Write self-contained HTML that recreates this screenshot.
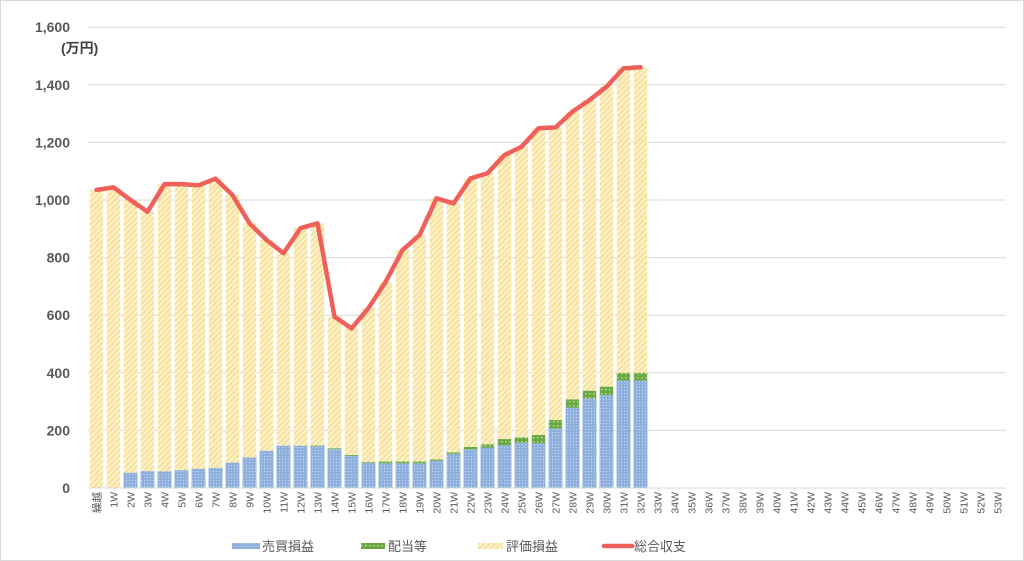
<!DOCTYPE html>
<html><head><meta charset="utf-8"><style>
html,body{margin:0;padding:0;background:#fff;}
svg{display:block;font-family:"Liberation Sans","Noto Sans CJK JP",sans-serif;}
</style></head><body>
<svg id="c" width="1024" height="561" viewBox="0 0 1024 561" xmlns="http://www.w3.org/2000/svg">
<defs>
<pattern id="py" width="4" height="4" patternUnits="userSpaceOnUse" patternTransform="rotate(45)">
<rect width="4" height="4" fill="#f7e3a0"/><rect width="1.3" height="4" fill="#fff7e0"/></pattern>
<pattern id="pb" width="3" height="3" patternUnits="userSpaceOnUse">
<rect width="3" height="3" fill="#8fb0dc"/><rect width="1" height="1" fill="#c8d9ef"/></pattern>
<pattern id="pg" width="4" height="4" patternUnits="userSpaceOnUse">
<rect width="4" height="4" fill="#6aa843"/><rect x="1" y="1" width="1.5" height="1.5" fill="#b7dc96"/></pattern>
</defs>
<rect x="0.5" y="0.5" width="1023" height="560" fill="#fff" stroke="#d9d9d9"/>
<g id="g"></g>
</svg>
<script>
var g=document.getElementById('g'),NS='http://www.w3.org/2000/svg';
function el(t,a,txt){var e=document.createElementNS(NS,t);for(var k in a)e.setAttribute(k,a[k]);if(txt!=null)e.textContent=txt;g.appendChild(e);return e;}
var y0=488,sc=0.288,L=88,st=17.0;
function Y(v){return y0-v*sc;}
for(var v=0;v<=1600;v+=200){var y=Y(v);
 if(v>0)el('line',{x1:L,x2:1006,y1:y,y2:y,stroke:'#d9d9d9','stroke-width':1});
 el('text',{x:70,y:y+5,'text-anchor':'end','font-size':14,'font-weight':'bold',fill:'#595959'},v.toLocaleString('en-US'));}
el('text',{x:61,y:53,'font-size':14,'font-weight':'bold',fill:'#404040'},'(万円)');
var tot=[1035,1044,1000,959,1055,1055,1051,1074,1017,919,861,815,902,919,595,554,625,715,826,878,1006,988,1075,1093,1156,1185,1249,1252,1307,1347,1393,1457,1461];
var blu=[0,0,53,59,58,62,67,70,88,106,129,147,147,145,135,112,87,86,86,86,95,118,134,140,149,157,155,207,279,311,323,373,373];
var grn=[0,0,0,0,0,0,0,0,0,0,0,0,0,3,3,3,3,6,6,6,4,6,9,12,21,19,29,29,29,27,29,27,27];
var bw=13.5,pts=[];
for(var i=0;i<54;i++){var cx=L+st*(i+0.5);
 if(i<tot.length){var b=blu[i],gr=grn[i],t=tot[i],yl=t-b-gr;
  if(b>0)el('rect',{x:cx-bw/2,y:Y(b),width:bw,height:b*sc,fill:'url(#pb)',stroke:'#9dc3e6','stroke-width':0.6});
  if(gr>0)el('rect',{x:cx-bw/2,y:Y(b+gr),width:bw,height:gr*sc,fill:'url(#pg)'});
  el('rect',{x:cx-bw/2,y:Y(t),width:bw,height:yl*sc,fill:'url(#py)'});
  pts.push(cx+','+Y(t));}
 var lab=i==0?'繰越':i+'W';
 el('text',{transform:'translate('+(cx+4)+',492) rotate(-90)','text-anchor':'end','font-size':10.5,fill:'#595959'},lab);}
el('line',{x1:L,x2:1006,y1:y0,y2:y0,stroke:'#d9d9d9','stroke-width':1});
el('polyline',{points:pts.join(' '),fill:'none',stroke:'#f0605a','stroke-width':4.5,'stroke-linejoin':'round','stroke-linecap':'round'});
// legend
el('rect',{x:232,y:543,width:28,height:6,fill:'url(#pb)'});
el('text',{x:262,y:551,'font-size':13,fill:'#595959'},'売買損益');
el('rect',{x:361,y:543,width:24,height:6,fill:'url(#pg)'});
el('text',{x:388,y:551,'font-size':13,fill:'#595959'},'配当等');
el('rect',{x:478,y:543,width:25,height:6,fill:'url(#py)'});
el('text',{x:506,y:551,'font-size':13,fill:'#595959'},'評価損益');
el('line',{x1:604,x2:632,y1:546,y2:546,stroke:'#f0605a','stroke-width':4.5,'stroke-linecap':'round'});
el('text',{x:634,y:551,'font-size':13,fill:'#595959'},'総合収支');
</script>
</body></html>
